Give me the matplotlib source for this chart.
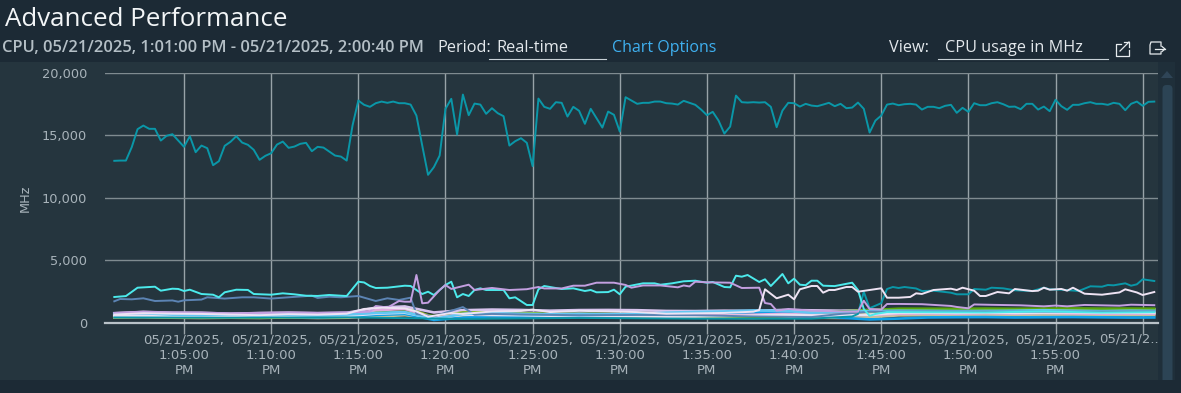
import matplotlib
matplotlib.use("Agg")
import matplotlib.pyplot as plt
from matplotlib.patches import Rectangle, Polygon, FancyBboxPatch

W, H = 1181, 393

# sample number = count of 20-second samples after 1:01:00 PM
top_values = [
 12950,12970,12970,14040,15480,15770,15510,15510,14570,14950,15080,14570,14070,14920,13640,14170,13960,12600,12920,14150,
 14470,14920,14410,14230,13830,13030,13350,13560,14250,14490,13990,14090,14310,14390,13720,14070,14010,13690,13370,13290,
 12970,15770,17770,17430,17270,17560,17690,17590,17690,17560,17560,17450,16570,14170,11830,12440,13370,17110,17910,15050,
 18250,16600,17530,17450,16710,17160,16760,16520,14170,14520,14760,14390,12520,17930,17270,17110,17640,17590,16490,17270,
 16950,15910,17110,16360,15610,16890,16630,15290,18040,17770,17510,17590,17590,17690,17690,17560,17530,17450,17750,17590,
 17430,17050,16600,16870,16170,15130,15690,18170,17640,17610,17640,17610,17640,17270,15640,16970,17590,17560,17290,17510,
 17370,17320,17450,17590,17320,17510,17160,17210,17610,17110,15210,16170,16570,17450,17530,17400,17480,17510,17450,17050,
 17270,17270,17160,17350,17430,16790,17190,16870,17560,17400,17400,17560,17640,17480,17270,17290,17080,17510,17510,17050,
 17290,16920,17830,17320,17030,17430,17430,17560,17640,17510,17510,17430,17590,17510,17000,17510,17690,17350,17670,17690]

cyan_samples = [0,2,4,7,8,10,11,12,13,15,17,18,19,21,23,24,27,29,31,33,35,37,39,40,42,43,44,45,47,50,51,53,54,55,57,58,59,60,61,62,63,64,67,68,69,71,72,73,74,77,79,81,82,83,85,86,87,88,91,93,94,96,98,100,102,103,105,106,107,108,109,111,112,113,115,116,117,118,119,120,121,122,124,127,128,129,130,131,133,140,150,160,170,179]
cyan_values = [2056,2130,2800,2880,2560,2720,2700,2536,2640,2296,2240,2032,2432,2640,2620,2296,2240,2350,2270,2160,2140,2220,2160,2136,3280,3220,2936,2776,2800,2960,2936,2296,2480,2216,3016,3280,2032,2296,2136,2616,2750,2616,2616,1952,2032,1416,1416,2672,2936,2696,2750,2536,2616,2432,2450,2640,2272,2880,3150,3150,3040,3150,3312,3360,3200,3260,2856,2830,3760,3680,3816,3256,3472,2936,3896,3150,3520,3040,3000,3360,3360,2960,2930,3200,2616,1100,550,700,850,840,820,900,810,840]

violet_samples = [0,5,10,15,20,25,30,35,40,44,45,46,47,49,50,51,52,53,54,56,57,58,61,62,65,68,71,73,74,77,79,81,83,86,88,89,91,94,97,98,99,100,102,106,108,111,112,113,114,116,120,125,128,129,130,132,133,135,139,144,145,147,148,151,156,160,162,164,167,173,175,179]
violet_values = [780,880,820,810,750,790,820,790,830,880,1336,1280,1200,1736,1680,1680,3816,1552,1600,2616,3016,2700,3040,2616,2780,2616,2680,2856,2740,2740,2960,2960,3200,3200,3020,2800,2980,2980,2830,2980,2900,3280,3230,3200,2776,2800,1575,1496,960,1100,960,900,880,1760,1096,1050,1496,1500,1480,1340,1260,1150,1460,1430,1390,1310,1370,1310,1420,1360,1440,1400]

white_samples = [0,5,10,15,20,25,30,35,40,43,46,50,52,54,58,60,65,70,72,75,80,85,90,95,100,105,110,111,112,114,116,117,118,120,121,122,123,124,126,127,128,130,132,133,135,137,138,139,141,144,145,146,148,149,150,152,154,155,158,159,160,161,163,164,165,167,170,173,174,176,177,179]
white_values = [650,760,720,700,650,600,680,640,720,1100,1200,1150,900,480,780,700,900,940,1050,850,950,900,850,720,750,780,880,1016,2672,1952,2240,1872,2672,2936,2936,2400,2616,2616,2856,2856,2480,2616,2752,2000,2000,2060,2350,2300,2616,2720,2616,2800,2560,2136,2136,2456,2350,2696,2530,2560,2800,2640,2700,2560,2800,2320,2240,2420,2672,2420,2216,2456]

teal2_samples = [0,20,40,60,80,100,120,127,128,129,130,132,133,134,135,136,138,139,141,144,145,147,148,150,151,153,155,158,160,161,163,166,168,170,171,172,174,175,176,177,179]
teal2_values = [420,400,430,300,380,320,320,500,700,2480,1160,1560,2696,2856,2776,2856,2740,2536,2560,2400,2272,2272,2696,2640,2800,2750,2592,2536,2800,2670,2640,2536,2912,2880,3016,2990,3150,2960,3070,3472,3336]

steel_samples = [0,1,3,5,7,10,11,12,15,16,19,22,24,27,30,34,35,37,39,42,45,47,49,51,52,55,60,62,65,70,80,90,100,110,120,125,130,140,160,179]
steel_values = [1712,1896,1870,1952,1736,1780,1680,1790,1850,2032,1930,2032,2032,1930,2032,2160,1980,2080,2032,2136,1736,1952,1820,2000,700,500,1250,640,700,650,600,620,600,500,450,700,880,900,880,900]

# low band, one value every 5 samples (last one at sample 179)
low_samples = [0,5,10,15,20,25,30,35,40,45,50,55,60,65,70,75,80,85,90,95,100,105,110,115,120,125,130,135,140,145,150,155,160,165,170,175,179]
lime_values = [450,470,430,430,440,400,440,420,450,900,1250,420,950,800,780,700,720,700,680,600,650,540,500,600,820,850,800,800,790,810,780,800,820,810,790,800,790]
green_values = [520,540,480,470,500,450,520,470,500,780,900,520,800,760,720,640,650,600,620,530,520,440,400,500,720,900,1000,1120,1120,1110,1130,1110,1130,1140,1120,1130,1120]
khaki_values = [420,440,400,380,400,380,420,380,400,500,600,380,560,520,500,470,480,470,450,430,420,400,380,420,400,380,430,590,600,590,620,600,640,640,610,600,610]
sky_values = [620,600,590,560,560,540,470,430,480,620,700,220,400,510,450,480,520,500,550,620,630,760,820,780,600,400,260,330,420,440,450,420,440,450,430,410,420]
light_blue_values = [730,760,650,620,660,590,640,580,650,780,850,300,700,780,700,680,700,680,700,800,860,900,980,950,800,850,930,960,950,930,940,960,1000,950,930,960,950]
pale_values = [540,560,500,510,520,480,500,470,540,720,800,350,640,620,600,560,590,560,540,480,500,520,560,620,580,570,640,800,810,790,820,790,810,830,800,810,800]
pink_values = [590,680,620,600,580,640,600,560,600,1000,1100,400,700,730,690,650,700,650,640,560,600,580,640,700,660,640,620,720,740,720,750,730,780,740,720,730,720]
lavender_values = [760,860,800,790,720,770,800,760,790,1200,1300,820,1000,1050,1020,960,1010,1020,1000,940,930,960,940,1020,990,960,1010,1050,1050,1040,1050,1020,1060,1080,1080,1070,1070]

y_ticks = [0, 5000, 10000, 15000, 20000]
tick_minutes = [65, 70, 75, 80, 85, 90, 95, 100, 105, 110, 115, 120]
tick_labels = ["05/21/2025,\n1:05:00\nPM", "05/21/2025,\n1:10:00\nPM", "05/21/2025,\n1:15:00\nPM",
               "05/21/2025,\n1:20:00\nPM", "05/21/2025,\n1:25:00\nPM", "05/21/2025,\n1:30:00\nPM",
               "05/21/2025,\n1:35:00\nPM", "05/21/2025,\n1:40:00\nPM", "05/21/2025,\n1:45:00\nPM",
               "05/21/2025,\n1:50:00\nPM", "05/21/2025,\n1:55:00\nPM", ""]

BG = "#1c2a35"
PANEL = "#25353e"
TEAL = "#0a97a8"
CYAN = "#4ceaec"
VIOLET = "#c39fe0"
WHITE = "#eee3f3"
STEEL = "#5c84b4"
GRID_H = "#7f8b90"
GRID_V = "#98a3a8"
TXT = "#a8b3ba"
HEAD = "#e3e8ec"


def minutes(samples):
    return [61 + s / 3 for s in samples]


fig = plt.figure(figsize=(W / 100, H / 100), dpi=100, facecolor=BG)

# page furniture drawn in pixel coordinates
bg = fig.add_axes([0, 0, 1, 1])
bg.set_xlim(0, W)
bg.set_ylim(H, 0)
bg.axis("off")
bg.add_patch(Rectangle((0, 62), 1158, 318, fc=PANEL, ec="none"))
bg.add_patch(Rectangle((1158, 62), 17, 318, fc="#1f2f3a", ec="none"))
bg.add_patch(Polygon([[1161, 78], [1173, 78], [1167, 71]], fc="#2f4557", ec="none"))
bg.add_patch(FancyBboxPatch((1162.5, 85), 10, 300, boxstyle="round,pad=0,rounding_size=4",
                            fc="#2c4455", ec="none"))
bg.add_patch(Rectangle((1158, 380), 23, 13, fc=BG, ec="none"))

bg.text(5, 19, "Advanced Performance", color="#f2f5f7", fontsize=18.6, family="Open Sans",
        va="center", ha="left")
bg.text(2, 47.5, "CPU, 05/21/2025, 1:01:00 PM - 05/21/2025, 2:00:40 PM", color="#b4bfc6",
        fontsize=11.9, family="Open Sans", weight="semibold", va="center", ha="left")
bg.text(437, 47.5, "Period:", color=HEAD, fontsize=11.7, family="Open Sans", va="center")
bg.text(496, 47.5, "Real-time", color=HEAD, fontsize=11.8, family="Open Sans", va="center")
bg.text(612, 47.5, "Chart Options", color="#3fb0f0", fontsize=11.5, family="Open Sans", va="center")
bg.text(889, 47.5, "View:", color=HEAD, fontsize=11.7, family="Open Sans", va="center")
bg.text(945, 47.5, "CPU usage in MHz", color=HEAD, fontsize=11.7, family="Open Sans", va="center")
bg.plot([489, 606], [58.5, 58.5], color="#c7d0d6", lw=0.8)
bg.plot([938, 1108], [58.5, 58.5], color="#c7d0d6", lw=0.8)
# pop-out icon
bg.plot([1121, 1115.5, 1115.5, 1128.5, 1128.5], [44, 44, 55.5, 55.5, 50], color="#e6ebee", lw=0.9)
bg.plot([1120, 1129], [51, 42], color="#e6ebee", lw=0.9)
bg.plot([1124, 1129, 1129], [42, 42, 47], color="#e6ebee", lw=0.9)
# export icon
bg.plot([1161, 1161, 1151, 1150, 1150, 1161, 1161], [46, 42, 42, 45, 54, 54, 52], color="#e6ebee", lw=0.9)
bg.plot([1155, 1165], [49, 49], color="#e6ebee", lw=0.9)
bg.plot([1162, 1165, 1162], [46.5, 49, 51.5], color="#e6ebee", lw=0.9)
bg.text(25, 198, "MHz", color=TXT, fontsize=9.3, rotation=90, va="center", ha="center")

# chart
LEFT, RIGHT = 105, 1158
ax = fig.add_axes([LEFT / W, 1 - 322.7 / H, (RIGHT - LEFT) / W, 250 / H], facecolor="none")
ax.set_xlim(61 + (LEFT - 114.3) / 5.81 / 3, 61 + (RIGHT - 114.3) / 5.81 / 3)
ax.set_ylim(0, 20000)
for s in ax.spines.values():
    s.set_visible(False)
ax.set_yticks(y_ticks)
ax.set_yticklabels([f"{v:,}" for v in y_ticks], color=TXT, fontsize=9.3)
ax.tick_params(axis="y", length=0, pad=13)
ax.set_xticks(tick_minutes)
ax.set_xticklabels(tick_labels, color=TXT, fontsize=9.5, linespacing=1.2)
ax.tick_params(axis="x", length=7.6, width=1.0, color=GRID_V, pad=0.2)
ax.grid(axis="y", color=GRID_H, lw=1.0)
ax.grid(axis="x", color=GRID_V, lw=1.0)
ax.set_axisbelow(True)
ax.axhline(0, color="#b9c2c8", lw=1.6, clip_on=False, zorder=1)
bg.text(1128.5, 339, "05/21/2..", color=TXT, fontsize=9.5, ha="center", va="center")

lw = 1.4
top_samples = list(range(len(top_values)))
low_series = [(khaki_values, "#c8c29a"), (lime_values, "#9fd12c"), (lavender_values, "#d8c4ee"),
              (green_values, "#5aa50a"), (sky_values, "#109fe6"), (pink_values, "#e2a9dc"),
              (pale_values, "#e8e2f2"), (light_blue_values, "#63c7f2")]
for vals, col in low_series:
    ax.plot(minutes(low_samples), vals, color=col, lw=1.9)
ax.plot(minutes(steel_samples), steel_values, color=STEEL, lw=lw)
ax.plot(minutes(teal2_samples), teal2_values, color=TEAL, lw=lw)
ax.plot(minutes(cyan_samples), cyan_values, color=CYAN, lw=lw)
ax.plot(minutes(violet_samples), violet_values, color=VIOLET, lw=lw)
ax.plot(minutes(white_samples), white_values, color=WHITE, lw=lw)
ax.plot(minutes(top_samples), top_values, color=TEAL, lw=lw)

fig.savefig("out.png", dpi=100, facecolor=BG)
